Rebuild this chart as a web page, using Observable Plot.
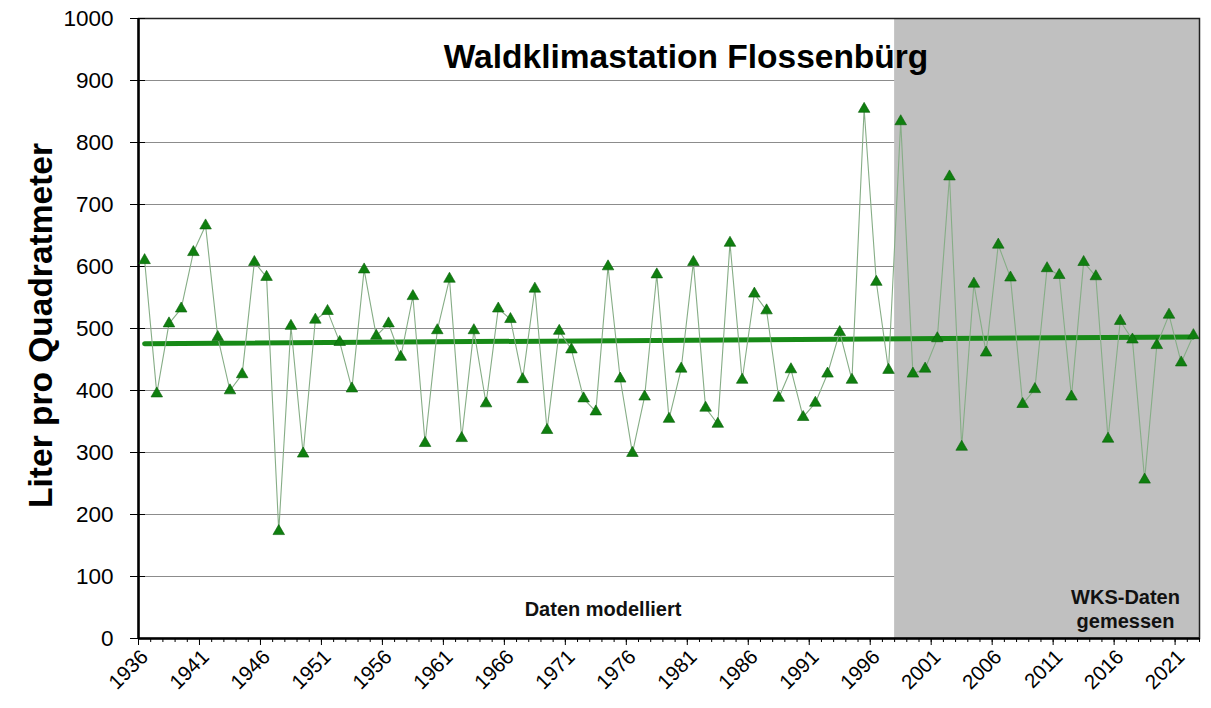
<!DOCTYPE html>
<html>
<head>
<meta charset="utf-8">
<script src="https://cdn.jsdelivr.net/npm/d3@7"></script>
<script src="https://cdn.jsdelivr.net/npm/@observablehq/plot@0.6"></script>
<style>
  html, body { margin: 0; padding: 0; background: #fff; }
  #chart svg { display: block; }
</style>
</head>
<body>
<div id="chart"></div>
<script>
// ---- data ----
const years = [
  1936,1937,1938,1939,1940,1941,1942,1943,1944,1945,
  1946,1947,1948,1949,1950,1951,1952,1953,1954,1955,
  1956,1957,1958,1959,1960,1961,1962,1963,1964,1965,
  1966,1967,1968,1969,1970,1971,1972,1973,1974,1975,
  1976,1977,1978,1979,1980,1981,1982,1983,1984,1985,
  1986,1987,1988,1989,1990,1991,1992,1993,1994,1995,
  1996,1997,1998,1999,2000,2001,2002,2003,2004,2005,
  2006,2007,2008,2009,2010,2011,2012,2013,2014,2015,
  2016,2017,2018,2019,2020,2021,2022
];
const precipitation = [
  610,395,508,532,623,666,486,400,426,607,
  583,173,504,298,514,528,478,403,595,488,
  508,454,552,315,497,580,323,497,379,532,
  515,418,564,336,496,466,387,366,600,419,
  299,390,587,354,435,607,372,346,638,417,
  556,529,388,434,357,380,427,494,417,854,
  575,433,834,427,435,484,745,309,572,461,
  635,582,378,402,597,586,390,607,584,322,
  512,482,256,473,522,445,489
];
const tickLabelYears = [1936,1941,1946,1951,1956,1961,1966,1971,1976,1981,1986,1991,1996,2001,2006,2011,2016,2021];
const yTicks = [0,100,200,300,400,500,600,700,800,900,1000];
const measuredPeriod = [{start: 1998, end: 2022}];
const titleText = ["Waldklimastation Flossenbürg"];
const yLabelText = ["Liter pro Quadratmeter"];
const modelledText = ["Daten modelliert"];
const measuredText = ["WKS-Daten\ngemessen"];

const data = years.map((year, i) => ({year, value: precipitation[i]}));
const firstYear = years[0], lastYear = years[years.length - 1];
const boundaries = years.map(y => y - 0.5).concat([lastYear + 0.5]);
const majorBoundaries = tickLabelYears.map(y => y - 0.5);

const font = "'Liberation Sans', Arial, Helvetica, sans-serif";

const chart = Plot.plot({
  width: 1211,
  height: 708,
  marginLeft: 138,
  marginRight: 12,
  marginTop: 18,
  marginBottom: 70,
  style: {fontFamily: font, color: "#000", background: "#fff"},
  x: {domain: [firstYear - 0.5, lastYear + 0.5]},
  y: {domain: [0, 1000]},
  marks: [
    // horizontal gridlines
    Plot.ruleY(yTicks.filter(v => v > 0), {stroke: "#8c8c8c", strokeWidth: 1.2}),
    // measured period shading
    Plot.rectY(measuredPeriod, {x1: d => d.start - 0.5, x2: d => d.end + 0.5, y1: 0, y2: 1000, fill: "#c0c0c0"}),
    Plot.frame({stroke: "#222", strokeWidth: 1.5}),
    // axes
    Plot.axisY({ticks: yTicks, tickSize: 8, tickPadding: 17, fontSize: 22.5, tickFormat: d => String(d), label: null}),
    Plot.axisY({ticks: yTicks, anchor: "left", tickSize: -7, tickFormat: () => "", label: null}),
    Plot.axisX({ticks: boundaries, tickSize: 4, tickFormat: () => "", label: null}),
    Plot.axisX({ticks: majorBoundaries, tickSize: 7, tickFormat: () => "", label: null}),
    Plot.axisX({ticks: tickLabelYears, tickSize: 0, tickPadding: 15, tickRotate: -45, fontSize: 20.5, tickFormat: d => String(d), label: null}),
    Plot.ruleY([0], {stroke: "#000", strokeWidth: 2.5}),
    Plot.ruleX([firstYear - 0.5], {stroke: "#000", strokeWidth: 2.5}),
    // trend
    Plot.linearRegressionY(data, {x: "year", y: "value", stroke: "#178a17", strokeWidth: 5, ci: 0}),
    // series
    Plot.line(data, {x: "year", y: "value", stroke: "#86ad86", strokeWidth: 1.1}),
    Plot.dot(data, {x: "year", y: "value", symbol: "triangle", r: 4.3, fill: "#0f7f0f", stroke: "#0a5f0a", strokeWidth: 0.6}),
    // texts
    Plot.text(titleText, {frameAnchor: "top", dx: 17, dy: 26, lineAnchor: "top", fontSize: 33.5, fontWeight: "bold", fill: "#000"}),
    Plot.text(yLabelText, {frameAnchor: "left", textAnchor: "middle", rotate: -90, dx: -97, dy: -3, fontSize: 33.5, fontWeight: "bold", fill: "#000"}),
    Plot.text(modelledText, {frameAnchor: "bottom", textAnchor: "middle", dx: -66, dy: -23, lineAnchor: "bottom", fontSize: 20, fontWeight: "bold", fill: "#111"}),
    Plot.text(measuredText, {frameAnchor: "bottom-right", textAnchor: "middle", dx: -74, dy: -11, lineAnchor: "bottom", lineHeight: 1.2, fontSize: 20, fontWeight: "bold", fill: "#111"})
  ]
});
document.getElementById("chart").appendChild(chart);
</script>
</body>
</html>
